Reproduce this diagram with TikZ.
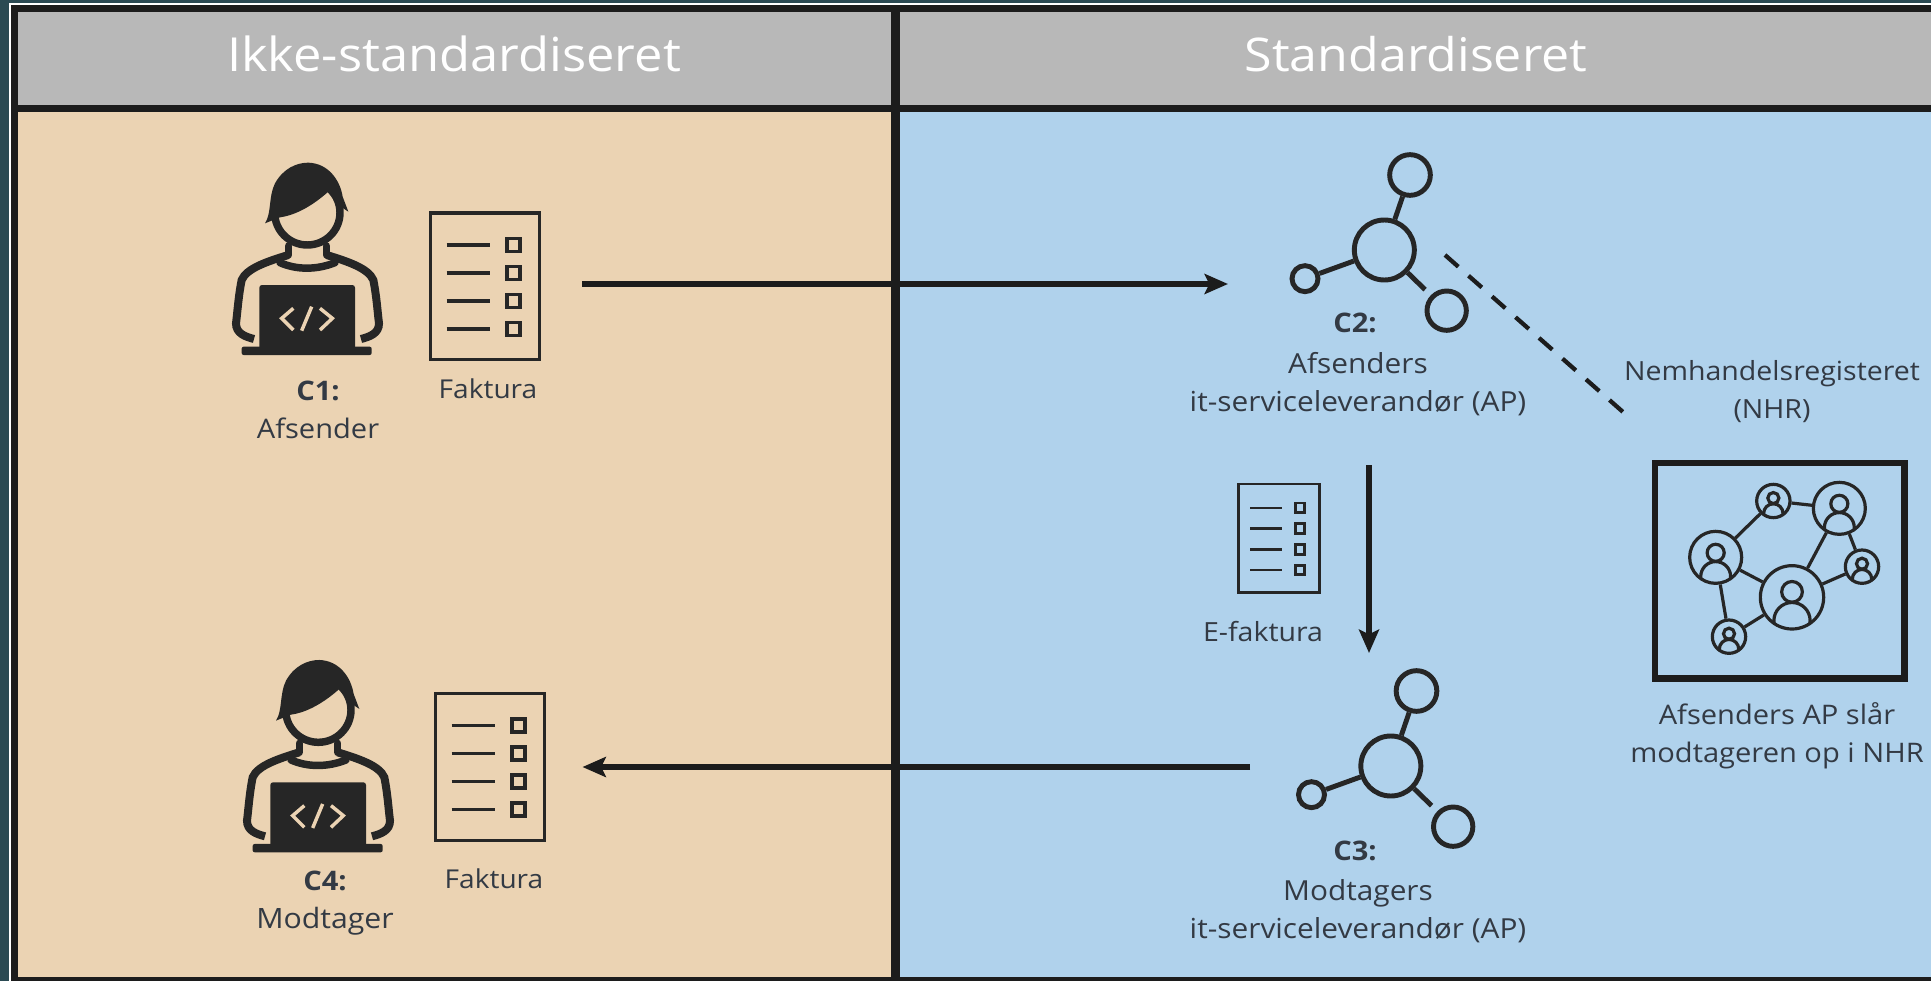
\documentclass[tikz,border=0pt]{standalone}
\usepackage{fontspec}
\setmainfont{Open Sans}[FakeStretch=1.08]
\usetikzlibrary{arrows.meta}
\definecolor{outerbg}{HTML}{2B4A53}
\definecolor{framek}{HTML}{1C1C1C}
\definecolor{headgray}{HTML}{B8B8B8}
\definecolor{beige}{HTML}{EBD3B3}
\definecolor{skyb}{HTML}{B0D2EC}
\definecolor{icon}{HTML}{262626}
\definecolor{labelc}{HTML}{333A44}
\newcommand{\lblsize}[1]{\fontsize{#1}{28.5}\selectfont}
\tikzset{
  labeltext/.style={text=labelc,font=\lblsize{20.2},inner sep=0pt,align=center,anchor=center},
  headtext/.style={text=white,font=\fontsize{35.2}{40}\selectfont,inner sep=0pt,anchor=center},
  flow/.style={draw=framek,line width=4.8pt,-{Stealth[length=17.5pt,width=15pt,inset=3.5pt]}},
  netc/.style={circle,draw=icon,line width=2.4pt,inner sep=0pt},
  netl/.style={draw=icon,line width=2.4pt},
  hubc/.style={circle,draw=icon,line width=3.7pt,inner sep=0pt},
  hubl/.style={draw=icon,line width=3.7pt},
}
% person icon: local units are 1/3 px of the reference
\newcommand{\personicon}[3]{%
 \begin{scope}[shift={(#1,#2)},x=.25pt,y=-.25pt,line cap=round]
  \fill[icon] (195,250) .. controls (215,220) and (205,170) .. (225,130)
    .. controls (250,85) and (290,68) .. (325,68)
    .. controls (385,70) and (420,120) .. (428,170) -- (445,215) -- (415,195)
    .. controls (405,180) and (395,165) .. (385,155)
    .. controls (340,195) and (290,225) .. (240,232) -- cycle;
  \draw[icon,line width=5.6pt] (322,218) ellipse [x radius=98,y radius=97];
  \draw[icon,line width=5.6pt] (265,318) -- (265,345) (380,318) -- (380,345);
  \draw[icon,line width=5.6pt] (240,368) .. controls (290,390) and (350,390) .. (405,368);
  \draw[icon,line width=6pt,line cap=butt] (265,345) .. controls (200,365) and (140,385) .. (125,420)
     .. controls (115,470) and (112,520) .. (108,550) .. controls (108,580) and (135,590) .. (162,597);
  \draw[icon,line width=6pt,line cap=butt] (380,345) .. controls (445,365) and (505,385) .. (520,420)
     .. controls (530,470) and (533,520) .. (537,550) .. controls (537,580) and (510,590) .. (483,597);
  \fill[icon,rounded corners=2pt] (178,435) rectangle (465,630);
  \fill[icon,rounded corners=1.5pt] (125,620) rectangle (515,645);
  \draw[#3,line width=2.6pt,line cap=butt] (280,505) -- (245,535) -- (280,570)
     (335,500) -- (305,572) (360,505) -- (397,535) -- (360,570);
 \end{scope}}
% document icon: #1 name, #2,#3 top-left px, #4 scale, #5 frame width, #6 inner width, #7 colour
\newcommand{\docicon}[7]{%
 \begin{scope}[shift={(#2,#3)},x=#4*.75pt,y=-#4*.75pt]
  \node[draw=#7,line width=#5,minimum width=#4*82pt,minimum height=#4*110pt,inner sep=0pt,outer sep=0pt] (#1) at (55,73.5) {};
  \foreach \yy in {32.3,60.3,88.3,116.3}{
    \draw[#7,line width=#6] (16.7,\yy) -- (60,\yy);
    \draw[#7,line width=#6] (77.2,\yy-6.5) rectangle (90.2,\yy+6.5);
  }
 \end{scope}}
% hub icon: #1 prefix, #2,#3 origin px
\newcommand{\hubicon}[3]{%
 \begin{scope}[shift={(#2,#3)},x=.25pt,y=-.25pt]
  \node[hubc,minimum size=45pt] (#1big) at (613,330) {};
  \node[hubc,minimum size=30.5pt] (#1top) at (690,105) {};
  \node[hubc,minimum size=19.5pt] (#1left) at (375,416) {};
  \node[hubc,minimum size=29.5pt] (#1right) at (800,512) {};
  \draw[hubl] (#1big) -- (#1top);
  \draw[hubl] (#1big) -- (#1left);
  \draw[hubl,shorten >=6pt] (#1big) -- (#1right);
 \end{scope}}
% network member: #1 name, #2,#3 centre, #4 radius (local units)
\newcommand{\netperson}[4]{%
  \node[netc,minimum size=#4*.5pt-1pt] (#1) at (#2,#3) {};
  \begin{scope}
   \clip (#2,#3) circle [radius=#4-2];
   \draw[icon,line width=2.4pt] (#2,#3-.17*#4) circle [radius=.32*#4];
   \draw[icon,line width=2.4pt] (#2,#3+.72*#4) circle [radius=.56*#4];
  \end{scope}}
\begin{document}
\begin{tikzpicture}[x=.75pt,y=-.75pt]
\useasboundingbox (0,0) rectangle (1931,981);
\fill[outerbg] (0,0) rectangle (1931,981);
\fill[white] (9,3) rectangle (1931,981);
\fill[framek] (11,5) rectangle (1931,981);
\fill[headgray] (18,12.5) rectangle (891,105);
\fill[headgray] (900,12.5) rectangle (1931,105);
\fill[beige] (18,112) rectangle (891,977);
\fill[skyb] (900,112) rectangle (1931,977);
\node[headtext] (h1) at (454,54) {Ikke-standardiseret};
\node[headtext,font=\fontsize{34.8}{40}\selectfont] (h2) at (1416,54) {Standardiseret};
% left column
\personicon{200}{140}{beige}
\docicon{fak1}{430}{212.7}{1}{2.5pt}{2.6pt}{icon}
\node[labeltext] (c1) at (318,391) {\textbf{C1:}};
\node[labeltext] (c1t) at (318,428) {Afsender};
\node[labeltext,font=\lblsize{19.5}] (f1) at (488,389) {Faktura};
\personicon{211}{637.3}{beige}
\docicon{fak4}{435}{693.4}{1}{2.5pt}{2.6pt}{icon}
\node[labeltext] (c4) at (325,881) {\textbf{C4:}};
\node[labeltext,font=\lblsize{21}] (c4t) at (325,921.5) {Modtager};
\node[labeltext,font=\lblsize{19.5}] (f4) at (494,879) {Faktura};
% hubs
\hubicon{hubA}{1180}{140}
\hubicon{hubB}{1186.5}{656}
\node[labeltext] (c2) at (1355,323) {\textbf{C2:}};
\node[labeltext,font=\lblsize{20.7}] (c2t) at (1358,384.5) {Afsenders\\it-serviceleverandør (AP)};
\node[labeltext] (c3) at (1355,851) {\textbf{C3:}};
\node[labeltext,font=\lblsize{20.7}] (c3t) at (1358,911) {Modtagers\\it-serviceleverandør (AP)};
% e-faktura
\docicon{efak}{1238}{484}{.74}{2pt}{2.1pt}{icon}
\node[labeltext,font=\lblsize{19.8}] (ef) at (1263,632) {E-faktura};
% NHR
\node[labeltext,font=\lblsize{19.8}] (nhr) at (1772,392) {Nemhandelsregisteret\\(NHR)};
\node[draw=framek,line width=5pt,minimum width=187pt,minimum height=161.5pt,inner sep=0pt,outer sep=0pt] (box) at (1779.7,570.5) {};
\begin{scope}[shift={(1620,440)},x=.25pt,y=-.25pt]
 \netperson{na}{287}{352}{80}
 \netperson{nb}{460}{183}{52}
 \netperson{nc}{658}{205}{80}
 \netperson{nd}{726}{380}{52}
 \netperson{ne}{516}{472}{97}
 \netperson{nf}{327}{590}{52}
 \draw[netl] (na) -- (nb);
 \draw[netl] (nb) -- (nc);
 \draw[netl] (nc) -- (ne);
 \draw[netl] (nc) -- (nd);
 \draw[netl] (ne) -- (nd);
 \draw[netl] (na) -- (ne);
 \draw[netl] (na) -- (nf);
 \draw[netl] (nf) -- (ne);
\end{scope}
\node[labeltext] (nt) at (1777,735.5) {Afsenders AP slår\\modtageren op i NHR};
% connectors
\coordinate (a1s) at (582,284);
\coordinate (a1e) at (1228,284);
\coordinate (a2s) at (1369,465);
\coordinate (a2e) at (1369,653);
\coordinate (a3s) at (1250,767);
\coordinate (a3e) at (582.5,767);
\coordinate (d1) at (1445,255);
\coordinate (d2) at (1623,412);
\draw[flow] (a1s) -- (a1e);
\draw[flow] (a2s) -- (a2e);
\draw[flow] (a3s) -- (a3e);
\draw[framek,line width=3.2pt,dash pattern=on 13.3pt off 10.2pt] (d1) -- (d2);
\end{tikzpicture}
\end{document}
